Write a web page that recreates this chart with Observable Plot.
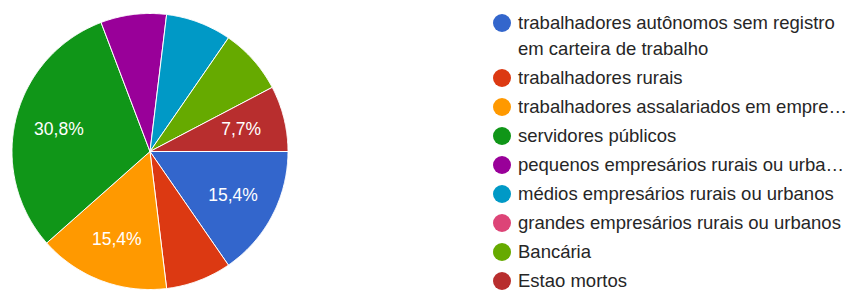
<!DOCTYPE html>
<html>
<head>
<meta charset="utf-8">
<script src="https://cdn.jsdelivr.net/npm/d3@7"></script>
<script src="https://cdn.jsdelivr.net/npm/@observablehq/plot@0.6"></script>
<style>
  html, body { margin: 0; padding: 0; background: #fff; }
  #wrap { position: relative; width: 851px; height: 291px; overflow: hidden; font-family: Arial, "Liberation Sans", sans-serif; }
  #pie { position: absolute; left: 0; top: 0; }
  #legend { position: absolute; left: 493px; top: 9.5px; color: #262626; font-size: 18.5px; }
  .item { display: flex; align-items: flex-start; line-height: 26px; margin-bottom: 3.1px; }
  .sw { width: 18px; height: 18px; border-radius: 50%; margin-top: 4px; margin-right: 7px; flex: none; }
  .lab { white-space: nowrap; }
  .lab.wrap { white-space: normal; width: 335px; }
</style>
</head>
<body>
<div id="wrap">
  <div id="pie"></div>
  <div id="legend"></div>
</div>
<script>
const categories = [
  "trabalhadores autônomos sem registro em carteira de trabalho",
  "trabalhadores rurais",
  "trabalhadores assalariados em empre…",
  "servidores públicos",
  "pequenos empresários rurais ou urba…",
  "médios empresários rurais ou urbanos",
  "grandes empresários rurais ou urbanos",
  "Bancária",
  "Estao mortos"
];
const values = [15.4, 7.7, 15.4, 30.8, 7.7, 7.7, 0, 7.7, 7.7];
const colors = ["#3366cc", "#dc3912", "#ff9900", "#109618", "#990099", "#0099c6", "#dd4477", "#66aa00", "#b82e2e"];
const sliceLabels = ["15,4%", "", "15,4%", "30,8%", "", "", "", "", "7,7%"];

// Pie geometry from the data
const arcs = d3.pie().sort(null).startAngle(Math.PI / 2).endAngle(Math.PI / 2 + 2 * Math.PI)(values);
const polyPoints = [];
arcs.forEach((a, i) => {
  if (values[i] <= 0) return;
  const name = categories[i];
  polyPoints.push({name, x: 0, y: 0});
  const n = Math.max(2, Math.ceil((a.endAngle - a.startAngle) / (Math.PI / 360)));
  for (let k = 0; k <= n; k++) {
    const t = a.startAngle + (a.endAngle - a.startAngle) * k / n;
    polyPoints.push({name, x: Math.sin(t), y: Math.cos(t)});
  }
  polyPoints.push({name, x: 0, y: 0});
});
const labelData = arcs.map((a, i) => {
  const m = (a.startAngle + a.endAngle) / 2;
  return {label: sliceLabels[i], x: 0.68 * Math.sin(m), y: 0.68 * Math.cos(m)};
}).filter(d => d.label);

const R = 138, cx = 149.5, cy = 151, W = 300, H = 291;
const chart = Plot.plot({
  width: W,
  height: H,
  marginLeft: cx - R,
  marginRight: W - (cx + R),
  marginTop: cy - R,
  marginBottom: H - (cy + R),
  x: {domain: [-1, 1], axis: null},
  y: {domain: [-1, 1], axis: null},
  color: {domain: categories, range: colors},
  style: {background: "transparent", overflow: "visible"},
  marks: [
    Plot.line(polyPoints, {x: "x", y: "y", z: "name", fill: "name", stroke: "white", strokeWidth: 1, strokeLinejoin: "round", curve: "linear"}),
    Plot.text(labelData, {x: "x", y: "y", text: "label", fill: "white", fontSize: 17.5, fontFamily: "Arial, 'Liberation Sans', sans-serif"})
  ]
});
document.getElementById("pie").appendChild(chart);

const legend = document.getElementById("legend");
categories.forEach((c, i) => {
  const item = document.createElement("div");
  item.className = "item";
  const sw = document.createElement("div");
  sw.className = "sw";
  sw.style.background = colors[i];
  const lab = document.createElement("div");
  lab.className = "lab" + (i === 0 ? " wrap" : "");
  lab.textContent = c;
  item.appendChild(sw);
  item.appendChild(lab);
  legend.appendChild(item);
});
</script>
</body>
</html>
